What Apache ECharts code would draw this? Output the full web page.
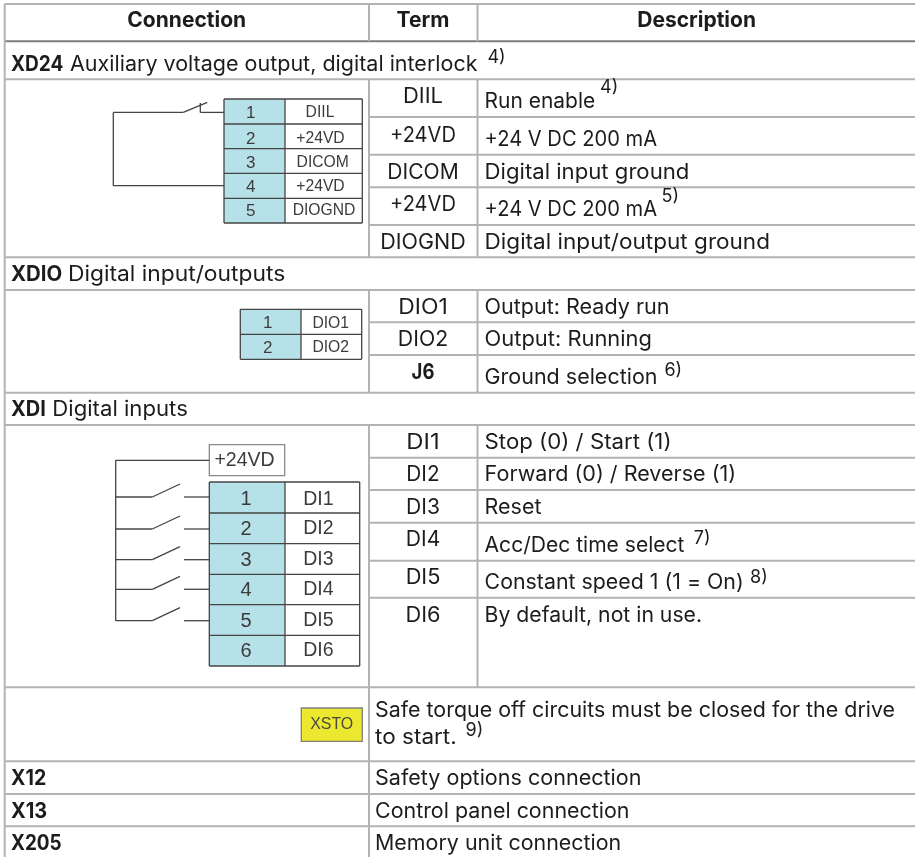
<!DOCTYPE html>
<html><head><meta charset="utf-8">
<style>html,body{margin:0;padding:0;background:#fff}#c{width:915px;height:857px}</style>
<script src="https://cdn.jsdelivr.net/npm/echarts@6/dist/echarts.min.js"></script>
</head><body><div id="c"></div>
<script>
// ---- content ----
const headers = ['Connection','Term','Description'];
const sectionCodes = ['XD24','XDIO','XDI'];
const sectionTitles = ['Auxiliary voltage output, digital interlock','Digital input/outputs','Digital inputs'];
const terms = ['DIIL','+24VD','DICOM','+24VD','DIOGND','DIO1','DIO2','J6','DI1','DI2','DI3','DI4','DI5','DI6'];
const descriptions = ['Run enable','+24 V DC 200 mA','Digital input ground','+24 V DC 200 mA','Digital input/output ground',
  'Output: Ready run','Output: Running','Ground selection',
  'Stop (0) / Start (1)','Forward (0) / Reverse (1)','Reset','Acc/Dec time select','Constant speed 1 (1 = On)','By default, not in use.'];
const safeText = ['Safe torque off circuits must be closed for the drive','to start.'];
const footCodes = ['X12','X13','X205'];
const footDescriptions = ['Safety options connection','Control panel connection','Memory unit connection'];
const notes = ['4)','4)','5)','6)','7)','8)','9)'];
const block1Numbers = ['1','2','3','4','5'];
const block1Labels = ['DIIL','+24VD','DICOM','+24VD','DIOGND'];
const block2Numbers = ['1','2'];
const block2Labels = ['DIO1','DIO2'];
const block3Numbers = ['1','2','3','4','5','6'];
const block3Labels = ['DI1','DI2','DI3','DI4','DI5','DI6'];
const supplyLabel = '+24VD';
const safeLabel = 'XSTO';

// ---- layout (separate from content) ----
const W=915,H=857,xA=4.7,xB=369,xC=477.5,xT=423,xD=484.6,xS=11,xD2=375;
const FONT='Inter', DIA='"Liberation Sans"';
const INK='#1c1c1c', GRID='#b3b3b3', DK='#444444', TEAL='#b7e1e8';
const hFull=[4,79.3,257.3,290,392.7,425,687.3,761.3,794,826.3];
const hTerm=[117,154.7,187.3,225,322.3,355,457.7,490,522.7,560.7,597.7];
const termY=[96,134.3,172,204,241.7,306.7,339,371.7,442,473.7,507,538.7,577,615];
const termW=[38,63.7,69.4,63.7,83.2,46.7,48.5,22.3,30.4,31.5,31.9,32.9,32.9,32.9];
const descY=[101,139,172,209,241.7,306.7,339,376.7,442,473.7,507,545,582,615];
const descEnd=[594,655.6,687.4,655.6,768,667,650,655,668.7,733.5,540.5,684.6,741,700];
const secY=[64,274,409], footY=[778,811,843];
const secCodeEnd=[63.3,62,45], secStart=[70,68,52.3], secEnd=[478,284,186.7];
const footCodeEnd=[46,46.7,61.3], footEnd=[639,627,618.8], safeEnd=[893.8,455.6];
const noteXY=[[487.4,57],[600,87],[661.6,195.7],[664.4,370],[693.8,537.7],[750,576.7],[465.5,730]];

const segs=[], rects=[], texts=[];
const seg=(x1,y1,x2,y2,c,w)=>segs.push({x1,y1,x2,y2,c,w});
const rect=(x,y,x2,y2,f,c,w)=>rects.push({x,y,x2,y2,f,c,w});
const txt=(s,x,y,o)=>texts.push(Object.assign({s,x,y,f:FONT,z:21,c:INK,a:'left',b:'normal'},o||{}));

hFull.forEach(y=>seg(xA,y,W,y,GRID,2));
hTerm.forEach(y=>seg(xB,y,W,y,GRID,2));
seg(xA,41.3,W,41.3,'#7d7d7d',2);
seg(xA,4,xA,H,GRID,2);
[[4,41.3],[79.3,257.3],[290,392.7],[425,H]].forEach(r=>seg(xB,r[0],xB,r[1],GRID,2));
[[4,41.3],[79.3,257.3],[290,392.7],[425,687.3]].forEach(r=>seg(xC,r[0],xC,r[1],GRID,2));

[186.7,423,696.6].forEach((x,i)=>txt(headers[i],x,20,{a:'center',b:'bold'}));
sectionCodes.forEach((c,i)=>txt(c,xS,secY[i],{b:'bold',w:secCodeEnd[i]-xS}));
sectionTitles.forEach((c,i)=>txt(c,secStart[i],secY[i],{w:secEnd[i]-secStart[i]}));
terms.forEach((t,i)=>txt(t,xT,termY[i],{a:'center',b:t==='J6'?'bold':'normal',w:termW[i]}));
descriptions.forEach((t,i)=>txt(t,xD,descY[i],{w:descEnd[i]-xD}));
txt(safeText[0],xD2,710,{w:safeEnd[0]-xD2}); txt(safeText[1],xD2,736.3,{w:safeEnd[1]-xD2});
footCodes.forEach((t,i)=>txt(t,xS,footY[i],{b:'bold',w:footCodeEnd[i]-xS}));
footDescriptions.forEach((t,i)=>txt(t,xD2,footY[i],{w:footEnd[i]-xD2}));
notes.forEach((t,i)=>txt(t,noteXY[i][0],noteXY[i][1],{z:18}));

function block(x0,x1,x2,ys,nums,labs,nY,lY,lX,nSize,lSize,nX){
  rect(x0,ys[0],x1,ys[ys.length-1],TEAL,null,0);
  const c=DK,w=1.3;
  ys.forEach(y=>seg(x0,y,x2,y,c,w));
  seg(x0,ys[0],x0,ys[ys.length-1],c,w); seg(x1,ys[0],x1,ys[ys.length-1],c,w); seg(x2,ys[0],x2,ys[ys.length-1],c,w);
  nums.forEach((t,i)=>txt(t,nX,nY[i],{f:DIA,z:nSize,a:'center',c:'#3c3c3c'}));
  labs.forEach((t,i)=>txt(t,lX[i],lY[i],{f:DIA,z:lSize,a:'center',c:'#3c3c3c'}));
}
block(224,285,362.3,[99,124,148.7,173.3,198.3,223],block1Numbers,block1Labels,
  [112.3,138,162.3,186.3,210.3],[112,137.5,161.3,185.3,210],[320,320.5,322.7,320.5,324],17,15.7,250.7);
block(240.3,301,361.7,[309.3,334.3,359.3],block2Numbers,block2Labels,[322.3,347.3],[322.3,346.7],[330.7,330.7],17,15.7,267.7);
block(209.3,285,359.7,[482,513,543.7,574.3,604.7,635.3,666],block3Numbers,block3Labels,
  [498.3,528,559,589,620,650],[498.3,528,559,589,620,650],[318.3,318.3,318.3,318.3,318.3,318.3],20,19.5,246);

// block 1 wiring
const W1=1.3;
seg(224,112.4,200.3,112.4,DK,W1); seg(200.3,112.4,200.3,103,DK,W1);
seg(207.3,102.3,183.3,112.4,DK,W1); seg(183.3,112.4,113.3,112.4,DK,W1);
seg(113.3,112.4,113.3,185.7,DK,W1); seg(113.3,185.7,224,185.7,DK,W1);
// block 3 wiring
rect(209.3,444.7,284.7,475.7,'#fff','#8a8a8a',1.3);
txt(supplyLabel,244.5,459.3,{f:DIA,z:19.5,a:'center',c:'#3c3c3c'});
seg(115.7,460.3,209.3,460.3,DK,W1); seg(115.7,460.3,115.7,620.7,DK,W1);
[497,529,559.7,589.3,620.7].forEach(y=>{
  seg(115.7,y,152.3,y,DK,W1); seg(152.3,y,180,y-13,DK,W1); seg(184,y,209.3,y,DK,W1);
});
// XSTO
rect(301.3,708,362.3,741.3,'#ece830','#7f7f7f',1.3);
txt(safeLabel,331.7,724,{f:DIA,z:15.9,a:'center',c:'#4a4a3a'});

// horizontal fit of a text run to the width
const mctx=document.createElement('canvas').getContext('2d');
function fit(t){
  if(!t.w) return 1;
  mctx.font=t.b+' '+t.z+'px '+t.f;
  const m=mctx.measureText(t.s), ink=m.actualBoundingBoxLeft+m.actualBoundingBoxRight;
  return ink>0?t.w/ink:1;
}

const chart=echarts.init(document.getElementById('c'),null,{renderer:'canvas'});
chart.setOption({
  animation:false,
  grid:{left:0,right:0,top:0,bottom:0,containLabel:false},
  xAxis:{type:'value',min:0,max:W,show:false},
  yAxis:{type:'value',min:0,max:H,inverse:true,show:false},
  tooltip:{show:false},
  series:[
   {type:'custom',clip:false,silent:true,z:1,data:rects.map((r,i)=>[i]),renderItem:(p,api)=>{
     const r=rects[p.dataIndex],a=api.coord([r.x,r.y]),b=api.coord([r.x2,r.y2]);
     return {type:'rect',shape:{x:a[0],y:a[1],width:b[0]-a[0],height:b[1]-a[1]},style:{fill:r.f,stroke:r.c,lineWidth:r.w}};
   }},
   {type:'custom',clip:false,silent:true,z:2,data:segs.map((r,i)=>[i]),renderItem:(p,api)=>{
     const r=segs[p.dataIndex],a=api.coord([r.x1,r.y1]),b=api.coord([r.x2,r.y2]);
     return {type:'line',shape:{x1:a[0],y1:a[1],x2:b[0],y2:b[1]},style:{stroke:r.c,lineWidth:r.w}};
   }},
   {type:'custom',clip:false,silent:true,z:3,data:texts.map((r,i)=>[i]),renderItem:(p,api)=>{
     const t=texts[p.dataIndex],a=api.coord([t.x,t.y]);
     return {type:'text',x:a[0],y:a[1]+1,scaleX:fit(t),
       style:{text:t.s,x:0,y:0,fill:t.c,fontFamily:t.f,fontSize:t.z,fontWeight:t.b,align:t.a,verticalAlign:'middle'}};
   }}
  ]
});
</script></body></html>
